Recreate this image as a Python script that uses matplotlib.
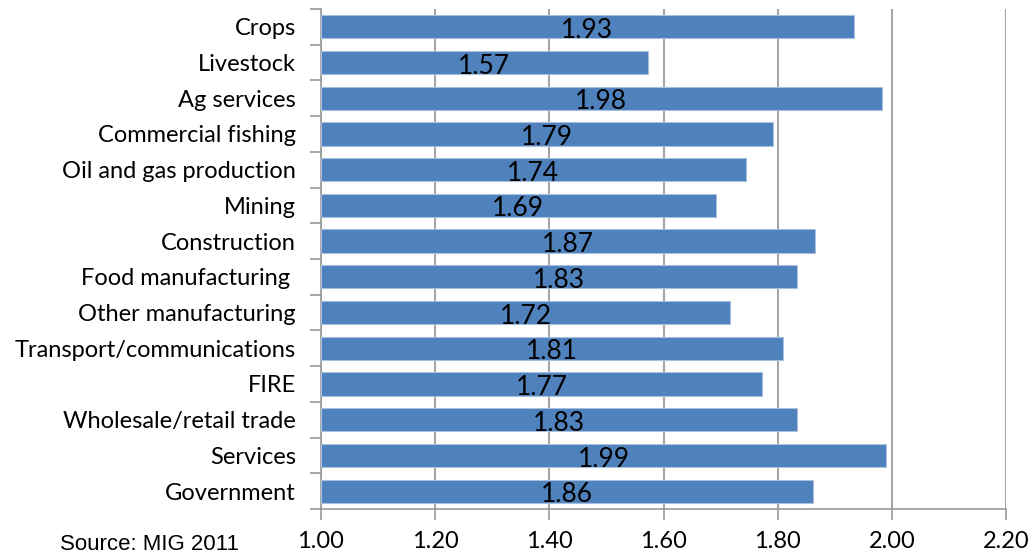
import matplotlib
matplotlib.use("Agg")
import matplotlib.pyplot as plt
import numpy as np

categories = ["Crops", "Livestock", "Ag services", "Commercial fishing",
              "Oil and gas production", "Mining", "Construction",
              "Food manufacturing ", "Other manufacturing",
              "Transport/communications", "FIRE", "Wholesale/retail trade",
              "Services", "Government"]
multipliers = [1.933, 1.572, 1.982, 1.791, 1.744, 1.691, 1.866,
               1.833, 1.717, 1.810, 1.773, 1.833, 1.990, 1.862]
xticks = [1.00, 1.20, 1.40, 1.60, 1.80, 2.00, 2.20]

fig = plt.figure(figsize=(10.32, 5.56), dpi=100)
ax = fig.add_axes([0.311, 0.0845, 0.664, 0.8995])

y = np.arange(len(categories))
base = 1.0
ax.barh(y, np.array(multipliers) - base, left=base, height=0.65,
        color="#4F81BD", edgecolor="#A7C0DE", linewidth=0.8, zorder=3)

for yi, v in zip(y, multipliers):
    ax.text((base + v) / 2, yi + 0.1, f"{v:.2f}", ha="center", va="center",
            fontsize=19, family="Lato", color="black", zorder=4)

ax.set_xlim(1.0, 2.2)
ax.set_ylim(len(categories) - 0.5, -0.5)
ax.set_xticks(xticks)
ax.set_xticklabels([f"{t:.2f}" for t in xticks], family="Lato", fontsize=17)
ax.set_yticks(y)
ax.set_yticklabels(categories, family="Lato", fontsize=17)
ax.tick_params(axis="y", length=0, pad=18)
ax.tick_params(axis="x", length=8, width=1.2, color="#999999", pad=8,
               direction="out")
# y-axis ticks at category boundaries
ax.set_yticks(np.arange(len(categories) + 1) - 0.5, minor=True)
ax.tick_params(axis="y", which="minor", length=8, width=1.2, color="#999999")

ax.grid(axis="x", color="#A6A6A6", linewidth=1.5, zorder=0)
for s in ["top", "right"]:
    ax.spines[s].set_visible(False)
for s in ["left", "bottom"]:
    ax.spines[s].set_color("#999999")
    ax.spines[s].set_linewidth(1.2)

fig.text(0.058, 0.02, "Source: MIG 2011", family="Liberation Sans",
         fontsize=16, ha="left", va="center")

fig.savefig("out.png", dpi=100)
